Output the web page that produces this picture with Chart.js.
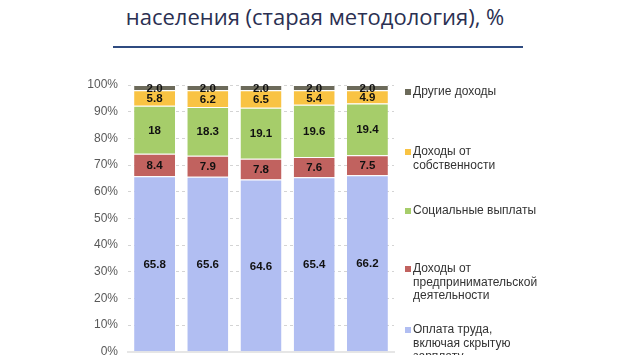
<!DOCTYPE html>
<html>
<head>
<meta charset="utf-8">
<script src="https://cdn.jsdelivr.net/npm/chart.js@4"></script>
<style>
  html, body { margin: 0; padding: 0; background: #fff; }
  body { width: 630px; height: 355px; position: relative; overflow: hidden; }
  .title { position: absolute; left: 0; width: 630px; top: 1px; text-align: center;
           font-family: "Open Sans", sans-serif; font-size: 22px; color: #2b3052; white-space: nowrap; }
  .rule { position: absolute; left: 113px; top: 46px; width: 410px; height: 2px; background: #2f4b80; }
  .chart-box { position: absolute; left: 0; top: 0; width: 630px; height: 369px; }
  .legend-item { position: absolute; left: 405px; font-family: "Liberation Sans", Arial, sans-serif;
                 font-size: 12px; line-height: 13.5px; color: #333; }
  .legend-item i { position: absolute; left: 0; top: 4px; width: 6px; height: 6px; }
  .legend-item span { display: block; margin-left: 8px; }
</style>
</head>
<body>
<div class="title">населения (старая методология), %</div>
<div class="rule"></div>
<div class="chart-box"><canvas id="myChart" width="630" height="369"></canvas></div>

<script>
const years = ["1", "2", "3", "4", "5"];
const wages = [65.8, 65.6, 64.6, 65.4, 66.2];
const business = [8.4, 7.9, 7.8, 7.6, 7.5];
const social = [18, 18.3, 19.1, 19.6, 19.4];
const property = [5.8, 6.2, 6.5, 5.4, 4.9];
const other = [2.0, 2.0, 2.0, 2.0, 2.0];
const yTicks = [0, 10, 20, 30, 40, 50, 60, 70, 80, 90, 100];

const seriesNames = [
  "Оплата труда,\nвключая скрытую\nзарплату",
  "Доходы от\nпредпринимательской\nдеятельности",
  "Социальные выплаты",
  "Доходы от\nсобственности",
  "Другие доходы"
];
const seriesColors = ["#b1bef2", "#c1625f", "#a6cd6a", "#f9c343", "#6c6a5a"];
const legendTops = [323, 262, 204, 145, 85];

const seriesData = [wages, business, social, property, other];

// labels drawn in the middle of every segment
const segmentLabels = {
  id: "segmentLabels",
  afterDatasetsDraw(chart) {
    const ctx = chart.ctx;
    ctx.save();
    ctx.font = "bold 11.5px 'Liberation Sans', Arial, sans-serif";
    ctx.fillStyle = "#111";
    ctx.textAlign = "center";
    ctx.textBaseline = "middle";
    chart.data.datasets.forEach((ds, i) => {
      chart.getDatasetMeta(i).data.forEach((bar, j) => {
        const v = ds.data[j];
        const txt = i === 4 ? v.toFixed(1) : String(v);
        ctx.fillText(txt, bar.x, (bar.y + bar.base) / 2 + 1);
      });
    });
    ctx.restore();
  }
};

new Chart("myChart", {
  type: "bar",
  data: {
    labels: years,
    datasets: seriesData.map((d, i) => ({
      label: seriesNames[i],
      data: d,
      backgroundColor: seriesColors[i],
      borderColor: "#ffffff",
      borderWidth: {top: 1},
      borderSkipped: false,
      barPercentage: 0.77,
      categoryPercentage: 1
    }))
  },
  options: {
    responsive: false,
    animation: false,
    layout: {padding: {left: 0, right: 236, top: 85, bottom: 4}},
    plugins: {legend: {display: false}, tooltip: {enabled: false}},
    scales: {
      x: {
        stacked: true,
        ticks: {display: false},
        grid: {display: false},
        border: {color: "#e6e6e6", width: 2},
        afterFit: scale => { scale.height = 0; }
      },
      y: {
        stacked: true,
        min: 0,
        max: 100,
        afterBuildTicks: scale => { scale.ticks = yTicks.map(v => ({value: v})); },
        afterFit: scale => { scale.width = 128; },
        ticks: {
          padding: 10,
          color: "#595959",
          font: {family: "'Liberation Sans', Arial, sans-serif", size: 12},
          callback: v => v + "%"
        },
        grid: {color: "#d4d4d4", drawTicks: false},
        border: {display: false, dash: [3, 3]}
      }
    }
  },
  plugins: [segmentLabels]
});

// legend, top series first
seriesNames.forEach((name, i) => {
  const el = document.createElement("div");
  el.className = "legend-item";
  el.style.top = legendTops[i] + "px";
  el.innerHTML = '<i style="background:' + seriesColors[i] + '"></i><span></span>';
  el.querySelector("span").innerText = name;
  document.body.appendChild(el);
});
</script>
</body>
</html>
